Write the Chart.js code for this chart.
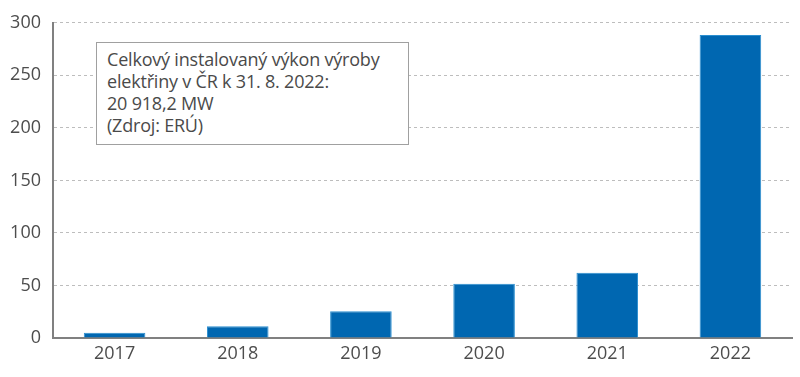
<!DOCTYPE html>
<html>
<head>
<meta charset="utf-8">
<script src="https://cdn.jsdelivr.net/npm/chart.js@4"></script>
<style>
  html, body { margin: 0; padding: 0; background: #fff; }
  #wrap { position: relative; width: 800px; height: 377px; }
  #note {
    position: absolute; left: 96px; top: 42px; width: 313px; height: 103px;
    box-sizing: border-box; border: 1px solid #a0a0a0; background: #fff;
    padding: 5px 0 0 10px;
    font-family: "Open Sans", sans-serif; font-size: 18px; line-height: 22px; color: #4a4a4a;
    letter-spacing: -0.2px;
  }
</style>
</head>
<body>
<div id="wrap">
  <canvas id="chart" width="800" height="377"></canvas>
  <div id="note">Celkový instalovaný výkon výroby<br>elektřiny v ČR k 31. 8. 2022:<br>20 918,2 MW<br>(Zdroj: ERÚ)</div>
</div>
<script>
// ===============================
// Data
// ===============================
const years = ["2017", "2018", "2019", "2020", "2021", "2022"];
const values = [5, 11.3, 25.5, 51.6, 62, 288.4];
const yTicks = [0, 50, 100, 150, 200, 250, 300];

const tickFont = { family: "'Open Sans', sans-serif", size: 18 };

// ===============================
// Bar Chart
// ===============================
const ctx = document.getElementById("chart").getContext("2d");
const chart = new Chart(ctx, {
    type: "bar",
    data: {
        labels: years,
        datasets: [{
            data: values,
            backgroundColor: "#0067b1",
            borderColor: "#2b8fd0",
            borderWidth: 1,
            categoryPercentage: 1,
            barPercentage: 0.5
        }]
    },
    options: {
        responsive: false,
        animation: false,
        layout: { padding: { top: 20, right: 8, left: 0, bottom: 0 } },
        plugins: { legend: { display: false }, tooltip: { enabled: false } },
        scales: {
            x: {
                grid: { display: false, drawTicks: false },
                border: { color: "#808080", width: 2 },
                ticks: { color: "#4d4d4d", font: tickFont, padding: 5 },
                afterFit: s => { s.height = 39; }
            },
            y: {
                min: 0,
                max: 300,
                afterBuildTicks: s => { s.ticks = yTicks.map(v => ({ value: v })); },
                grid: {
                    color: c => c.tick.value === 0 ? "rgba(0,0,0,0)" : "#bdbdbd",
                    drawTicks: false
                },
                border: { color: "#808080", width: 2, dash: [3, 3] },
                ticks: { color: "#4d4d4d", font: tickFont, padding: 12 },
                afterFit: s => { s.width = 53; }
            }
        }
    }
});
</script>
</body>
</html>
